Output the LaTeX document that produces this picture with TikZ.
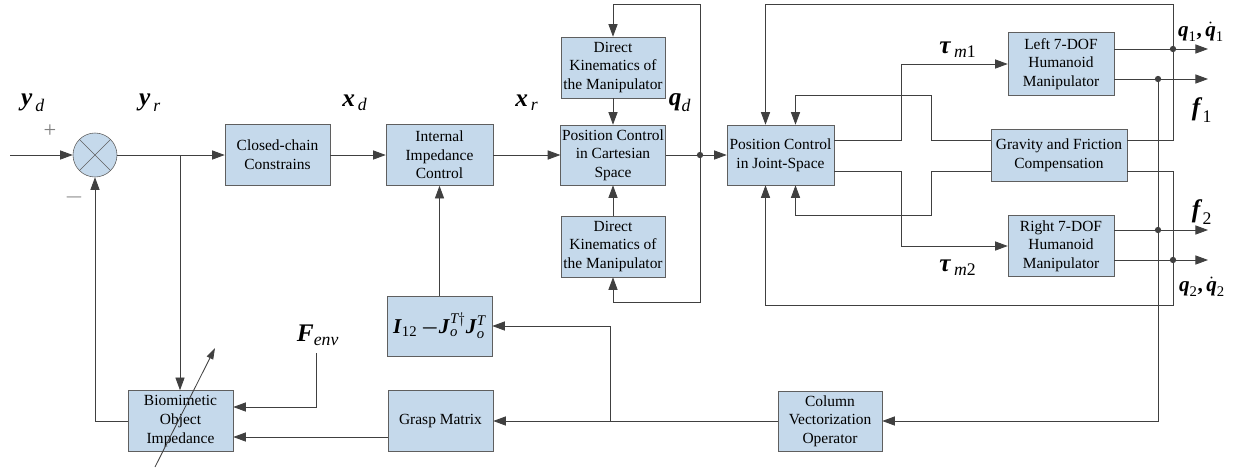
\documentclass[tikz,border=0pt]{standalone}
\usepackage{amsmath}
\usepackage{fontspec}
\setmainfont{Liberation Serif}
\usetikzlibrary{arrows.meta,calc}
\definecolor{boxfill}{RGB}{197,217,235}
\definecolor{boxline}{RGB}{95,95,95}
\definecolor{wirecol}{RGB}{64,64,64}
\newcommand{\bv}[1]{\textbf{\textit{#1}}}
\tikzset{
  block/.style={draw=boxline, fill=boxfill, align=center, inner sep=1pt, minimum width=2.625cm, minimum height=1.525cm, font=\fontsize{11}{13.3}\selectfont},
  wire/.style={draw=wirecol, line width=0.6pt},
  arr/.style={wire, -{Triangle[length=9pt,width=6.5pt]}},
  sig/.style={font=\fontsize{18}{20}\selectfont, inner sep=0pt},
  sigs/.style={font=\fontsize{15}{17}\selectfont, inner sep=0pt},
  pm/.style={font=\fontsize{16}{16}\selectfont, text=gray, inner sep=0pt},
  jdot/.style={circle, fill=wirecol, inner sep=0pt, minimum size=4.5pt},
}

\begin{document}
\begin{tikzpicture}[x=0.025cm, y=-0.025cm]
    \useasboundingbox (0,0) rectangle (1234,468);

    \node[circle, draw=boxline, fill=boxfill, minimum size=1.1cm, inner sep=0pt] (sum) at (95,155) {};
    \draw[boxline] (sum.45) -- (sum.225) (sum.135) -- (sum.315);
    \node[block] (cc) at (277.5,155) {Closed-chain\\Constrains};
    \node[block, minimum width=2.675cm] (iic) at (439.5,155) {Internal\\Impedance\\Control};
    \node[block, minimum width=2.6cm] (dkt) at (613,67.5) {Direct\\Kinematics of\\the Manipulator};
    \node[block, minimum width=2.6cm, minimum height=1.5cm] (pcc) at (613,155) {Position Control\\in Cartesian\\Space};
    \node[block, minimum width=2.6cm] (dkb) at (613,246.5) {Direct\\Kinematics of\\the Manipulator};
    \node[block, minimum width=2.675cm, minimum height=1.5cm] (pcj) at (780.5,155) {Position Control\\in Joint-Space};
    \node[block, minimum width=2.65cm, minimum height=1.575cm] (larm) at (1061,64) {Left 7-DOF\\Humanoid\\Manipulator};
    \node[block, minimum width=3.4cm, minimum height=1.3cm] (grav) at (1059,155) {Gravity and Friction\\Compensation};
    \node[block, minimum width=2.65cm] (rarm) at (1061,246) {Right 7-DOF\\Humanoid\\Manipulator};
    \node[block, minimum height=1.5cm, font=\fontsize{15}{17}\selectfont] (ibox) at (439.5,326)
        {$\bv{I}_{\text{12}}\,{\boldsymbol{-}}\bv{J}^{\textit{T}\dagger}_{\textit{o}}\bv{J}^{\textit{T}}_{\textit{o}}$};
    \node[block] (grasp) at (440.5,421) {Grasp Matrix};
    \node[block] (bio) at (180.5,421) {Biomimetic\\Object\\Impedance};
    \node[block, minimum width=2.6cm, minimum height=1.5cm] (col) at (830,421) {Column\\Vectorization\\Operator};

    \node[sig] (yd) at (33,103) {$\bv{y}_{\,\textit{d}}$};
    \node[pm] (plus) at (50,131) {+};
    \node[pm] (minus) at (74,197) {$-$};
    \node[sig] (yr) at (150,103) {$\bv{y}_{\,\textit{r}}$};
    \node[sig] (xd) at (355,103) {$\bv{x}_{\,\textit{d}}$};
    \node[sig] (xr) at (527,103) {$\bv{x}_{\,\textit{r}}$};
    \node[sig] (qd) at (680,103) {$\bv{q}_{\textit{d}}$};
    \node[sig] (tau1) at (958,50) {$\bv{τ}_{\,\textit{m}\text{1}}$};
    \node[sig] (tau2) at (958,268) {$\bv{τ}_{\,\textit{m}\text{2}}$};
    \node[sigs] (q1) at (1201,32) {$\bv{q}_{\text{1}}\textbf{,}\,\dot{\bv{q}}_{\text{1}}$};
    \node[sig] (f1) at (1202,110) {$\bv{f}_{\text{1}}$};
    \node[sig] (f2) at (1202,212) {$\bv{f}_{\text{2}}$};
    \node[sigs] (q2) at (1202,287) {$\bv{q}_{\text{2}}\textbf{,}\,\dot{\bv{q}}_{\text{2}}$};
    \node[sig] (fenv) at (318,335) {$\bv{F}_{\textit{env}}$};

    \coordinate (src) at (10,155);
    \coordinate (jy) at (180,155);
    \coordinate (toploop) at (700,4);
    \coordinate (botloop) at (700,302);
    \coordinate (b1) at (901,0);
    \coordinate (g1) at (931,95);
    \coordinate (g2) at (931,215);
    \coordinate (r1) at (1173,4);
    \coordinate (r2) at (1173,305);
    \coordinate (o1) at (1208,49);
    \coordinate (o2) at (1208,79);
    \coordinate (o3) at (1208,230);
    \coordinate (o4) at (1208,260);
    \coordinate (jg) at (610,421);
    \coordinate (fe) at (316,353);
    \coordinate (vtail) at (155,467);
    \coordinate (vhead) at (215,348);

    \draw[arr] (src) -- (sum);
    \draw[arr] (sum) -- (cc);
    \draw[arr] (jy) -- (jy |- bio.north);
    \draw[arr] (cc) -- (iic);
    \draw[arr] (iic) -- (pcc);
    \draw[wire] (pcc) -- (700,155);
    \draw[arr] (700,155) -- (pcj);
    \draw[arr] (700,155) -- (toploop) -| (dkt.north);
    \draw[arr] (dkt) -- (pcc);
    \draw[arr] (700,155) -- (botloop) -| (dkb.south);
    \draw[arr] (dkb) -- (pcc);

    \draw[arr] ($(pcj.east)+(0,-15)$) -| (b1 |- larm) -- (larm);
    \draw[arr] ($(pcj.east)+(0,16)$) -| (b1 |- rarm) -- (rarm);
    \draw[arr] ($(grav.west)+(0,-15)$) -| (g1) -| ($(pcj.north)+(15,0)$);
    \draw[arr] ($(grav.west)+(0,16)$) -| (g2) -| ($(pcj.south)+(15,0)$);
    \draw[arr] ($(grav.east)+(0,-15)$) -| (r1) -| ($(pcj.north)+(-15,0)$);
    \draw[arr] ($(grav.east)+(0,16)$) -| (r2) -| ($(pcj.south)+(-15,0)$);

    \draw[arr] ($(larm.east)+(0,-15)$) -- (o1);
    \draw[arr] ($(larm.east)+(0,15)$) -- (o2);
    \draw[arr] ($(rarm.east)+(0,-16)$) -- (o3);
    \draw[arr] ($(rarm.east)+(0,14)$) -- (o4);
    \draw[arr] (1158,79) |- (col);

    \draw[arr] (col) -- (grasp);
    \draw[arr] (jg) |- (ibox);
    \draw[arr] (ibox) -- (iic);
    \draw[arr] ($(grasp.west)+(0,16)$) -- ($(bio.east)+(0,16)$);
    \draw[arr] (fe) |- ($(bio.east)+(0,-14)$);
    \draw[arr] (bio.west) -| (sum.south);
    \draw[wire, -{Triangle[length=8pt,width=5pt]}] (vtail) -- (vhead);

    \node[jdot] (dq) at (700,155) {};
    \node[jdot] (dq1) at (1173,49) {};
    \node[jdot] (df1) at (1158,79) {};
    \node[jdot] (df2) at (1158,230) {};
    \node[jdot] (dq2) at (1173,260) {};
\end{tikzpicture}
\end{document}
